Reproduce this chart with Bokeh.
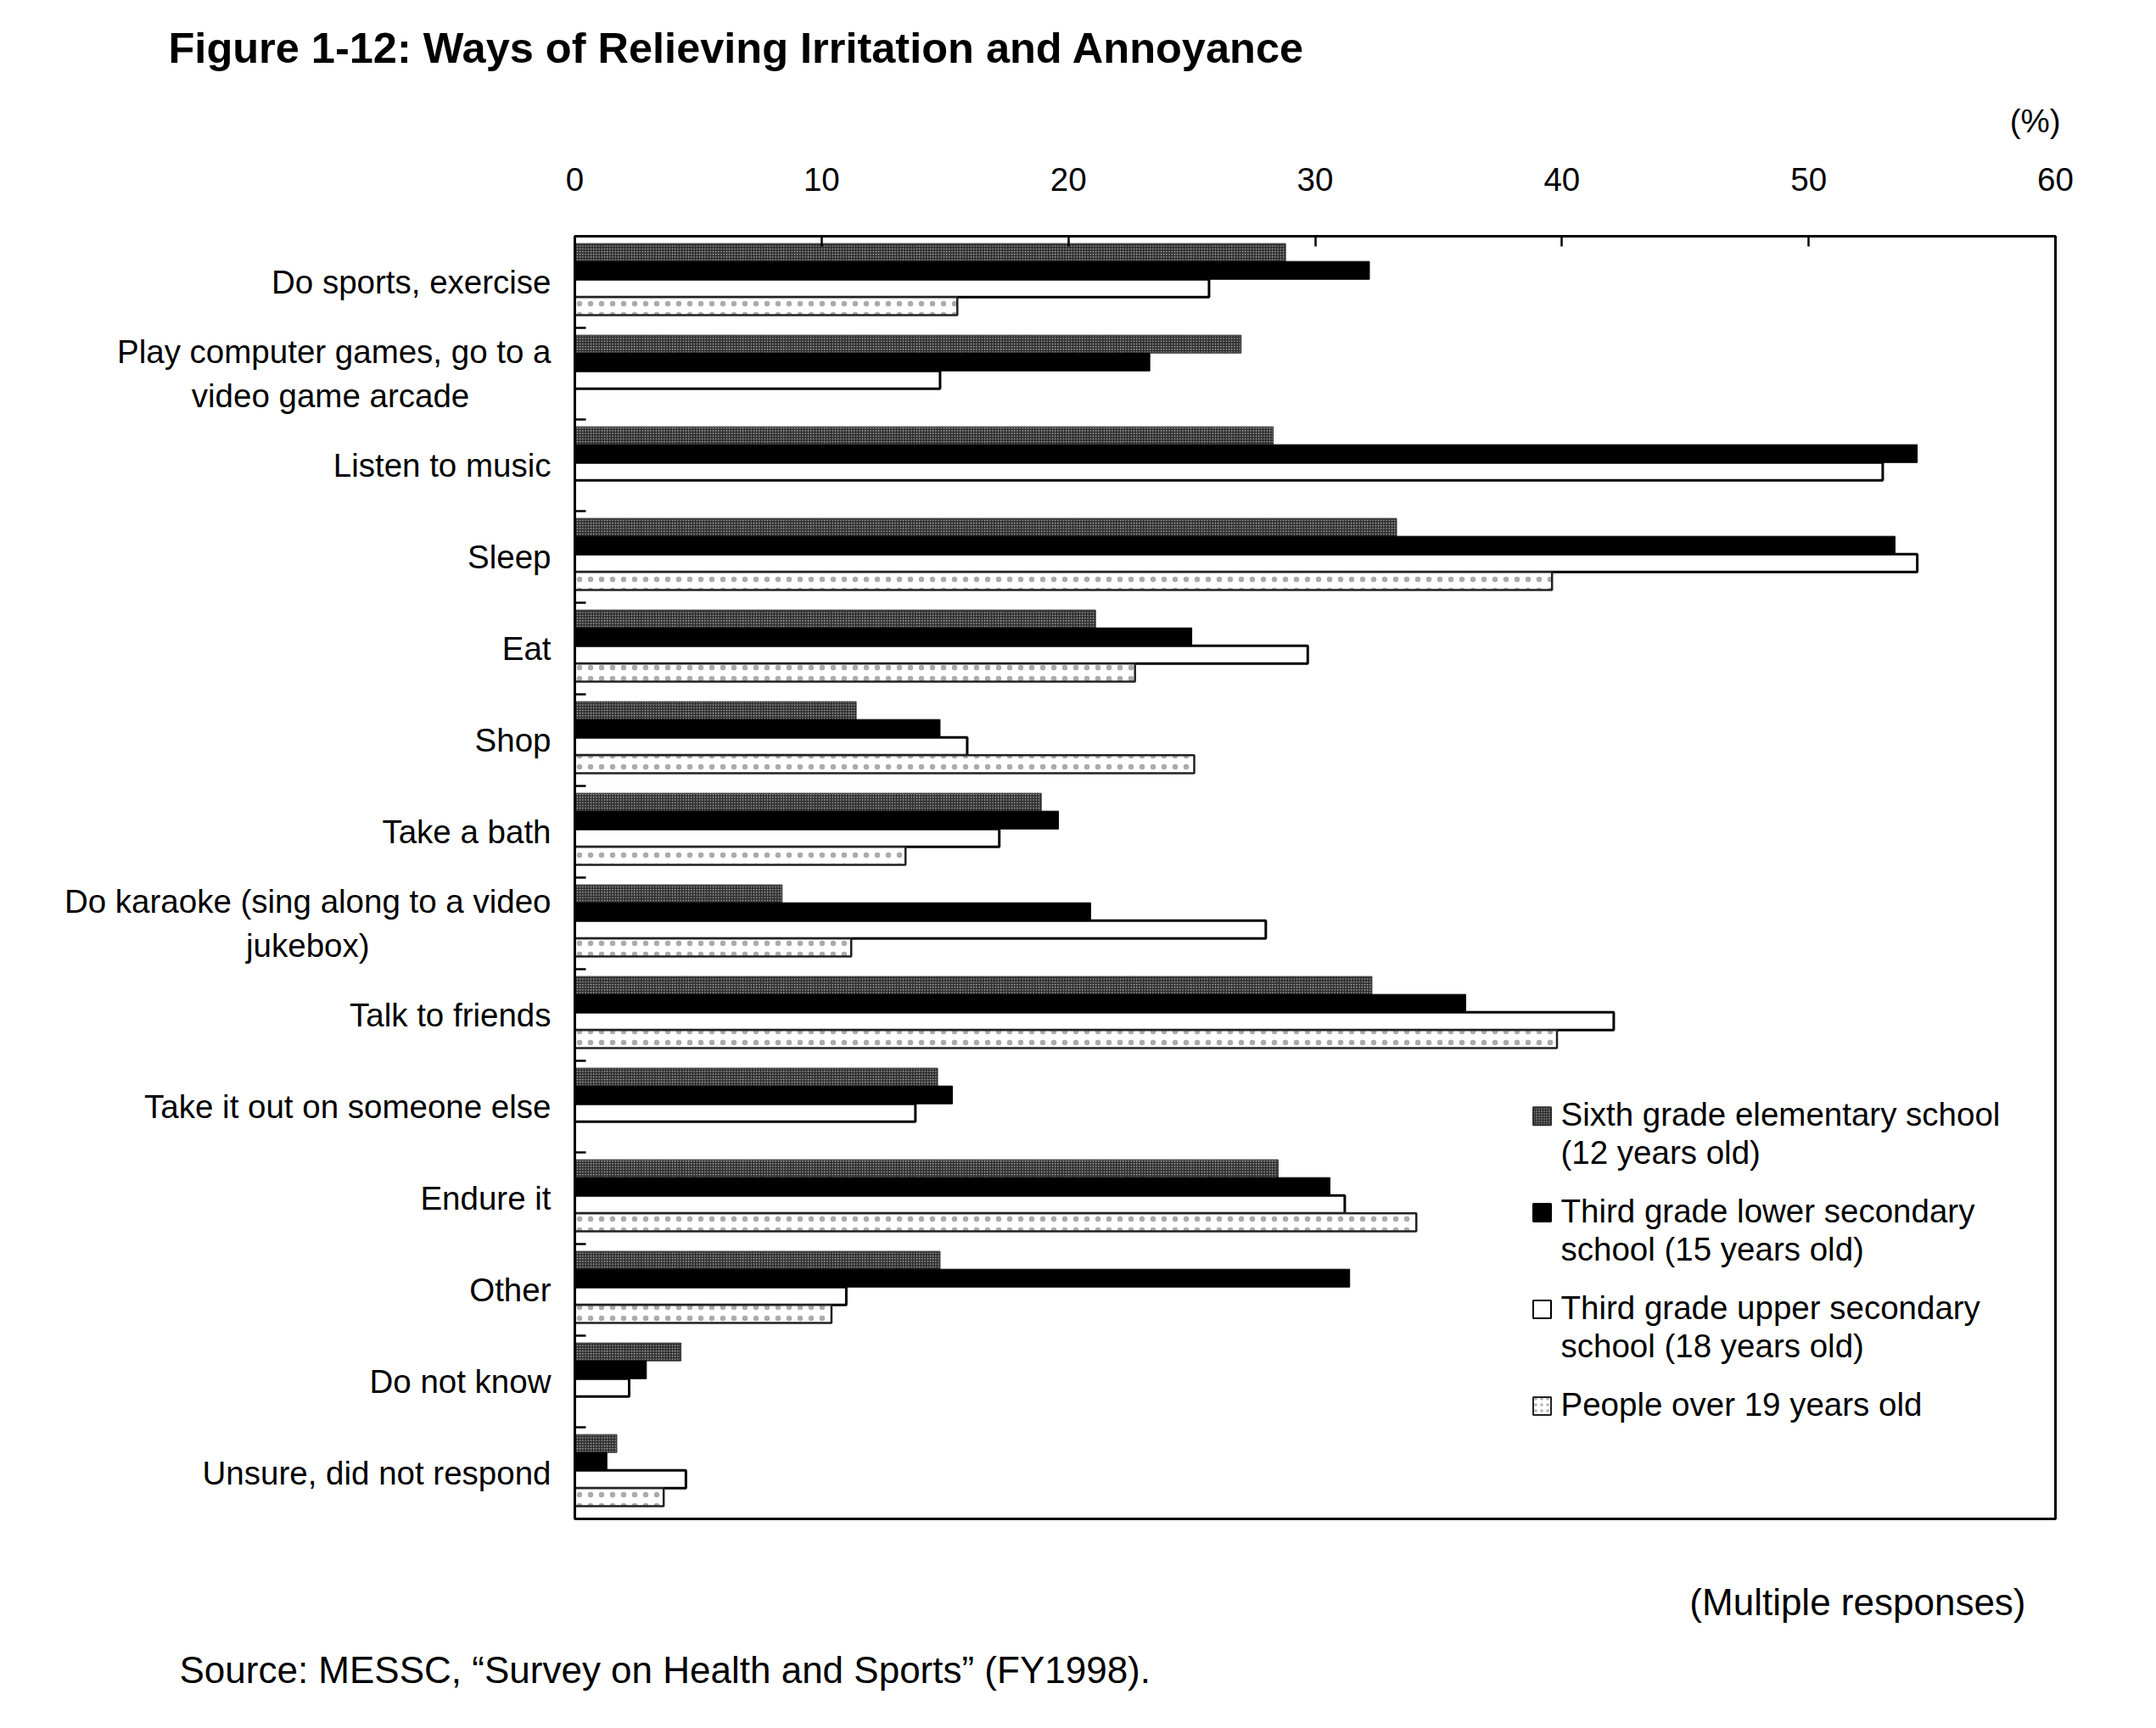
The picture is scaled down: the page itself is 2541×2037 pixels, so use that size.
from bokeh.plotting import figure
from bokeh.models import Range1d, FixedTicker, ColumnDataSource, Title
from bokeh.core.properties import value
from bokeh.embed import file_html
from bokeh.resources import INLINE

# ---------------- data ----------------
categories = [
    "Do sports, exercise",
    "Play computer games, go to a\nvideo game arcade",
    "Listen to music",
    "Sleep",
    "Eat",
    "Shop",
    "Take a bath",
    "Do karaoke (sing along to a video\njukebox)",
    "Talk to friends",
    "Take it out on someone else",
    "Endure it",
    "Other",
    "Do not know",
    "Unsure, did not respond",
]
series_names = [
    "Sixth grade elementary school\n(12 years old)",
    "Third grade lower secondary\nschool (15 years old)",
    "Third grade upper secondary\nschool (18 years old)",
    "People over 19 years old",
]
sixth = [28.8, 27.0, 28.3, 33.3, 21.1, 11.4, 18.9, 8.4, 32.3, 14.7, 28.5, 14.8, 4.3, 1.7]
lower = [32.2, 23.3, 54.4, 53.5, 25.0, 14.8, 19.6, 20.9, 36.1, 15.3, 30.6, 31.4, 2.9, 1.3]
upper = [25.7, 14.8, 53.0, 54.4, 29.7, 15.9, 17.2, 28.0, 42.1, 13.8, 31.2, 11.0, 2.2, 4.5]
over19 = [15.5, None, None, 39.6, 22.7, 25.1, 13.4, 11.2, 39.8, None, 34.1, 10.4, None, 3.6]
x_ticks = [0, 10, 20, 30, 40, 50, 60]

title_text = "Figure 1-12: Ways of Relieving Irritation and Annoyance"
unit_text = "(%)"
note_text = "(Multiple responses)"
source_text = "Source: MESSC, \u201cSurvey on Health and Sports\u201d (FY1998)."

# ---------------- style ----------------
FONT = "Liberation Sans"
W, H = 2525, 2020
LEFT, TOP = 677, 278
FRAME_W, FRAME_H = 1745, 1512
RIGHT = W - LEFT - FRAME_W
BOTTOM = H - TOP - FRAME_H
XMAX = 60
N = len(categories)


def X(cx):
    return (cx - LEFT) / FRAME_W * XMAX


def Y(cy):
    return (cy - TOP) / FRAME_H * N


BAR_H = 0.195
SHIFT = -0.03
# second lines of two-line category labels are centred under the first line
SECOND_LINE_PAD = {1: 9, 7: 20}
NBSP = "\u00a0"

styles = [
    dict(fill_color="#2e2e2e", line_color="#2e2e2e", line_width=1,
         hatch_pattern="dot", hatch_color="#bdbdbd", hatch_scale=3.2, hatch_weight=1.2),
    dict(fill_color="black", line_color="black", line_width=1),
    dict(fill_color="white", line_color="black", line_width=3),
    dict(fill_color="white", line_color="#222222", line_width=2.5,
         hatch_pattern="dot", hatch_color="#ababab", hatch_scale=13, hatch_weight=1.2),
]

p = figure(width=W, height=H, output_backend="svg", toolbar_location=None,
           x_range=Range1d(0, XMAX), y_range=Range1d(N, 0),
           x_axis_location="above",
           min_border_left=LEFT, min_border_right=RIGHT,
           min_border_top=TOP, min_border_bottom=BOTTOM)
p.background_fill_color = "white"
p.border_fill_color = "white"
p.xgrid.visible = False
p.ygrid.visible = False
p.outline_line_color = "black"
p.outline_line_width = 3

# main title (outermost above panel)
p.title.text = title_text
p.title.text_font = FONT
p.title.text_font_size = "50.5px"
p.title.text_font_style = "bold"
p.title.text_color = "black"
p.title.align = "left"
p.title.offset = 198 - LEFT
p.title.standoff = 6

# "(%)" unit title between axis and main title
p.add_layout(Title(text=unit_text, text_font=FONT, text_font_size="38.5px",
                   text_font_style="normal", text_color="black",
                   align="right", offset=-6, standoff=62), "above")

xa = p.xaxis[0]
xa.ticker = FixedTicker(ticks=x_ticks)
xa.major_tick_in = 12
xa.major_tick_out = 0
xa.minor_tick_line_color = None
xa.axis_line_width = 3
xa.major_tick_line_width = 2.5
xa.major_label_text_font = FONT
xa.major_label_text_font_size = "38.5px"
xa.major_label_text_color = "black"
xa.major_label_standoff = 54

ya = p.yaxis[0]
centers = [i + 0.5 for i in range(N)]
labels = []
for i, cat in enumerate(categories):
    lines = cat.split("\n")
    if len(lines) > 1:
        lines[1] = lines[1] + NBSP * SECOND_LINE_PAD[i]
    labels.append("\n".join(lines))
ya.ticker = FixedTicker(ticks=centers, minor_ticks=list(range(1, N)))
ya.major_label_overrides = {c: lab for c, lab in zip(centers, labels)}
ya.major_tick_line_color = None
ya.major_tick_in = 0
ya.major_tick_out = 0
ya.minor_tick_in = 13
ya.minor_tick_out = 0
ya.minor_tick_line_width = 2.5
ya.axis_line_width = 3
ya.major_label_text_font = FONT
ya.major_label_text_font_size = "38.5px"
ya.major_label_text_color = "black"
ya.major_label_standoff = 28

# ---------------- bars ----------------
all_series = [sixth, lower, upper, over19]
for j, vals in enumerate(all_series):
    ys, rs = [], []
    for i, v in enumerate(vals):
        if v is None:
            continue
        ys.append(i + 0.5 + SHIFT + (j - 1.5) * BAR_H)
        rs.append(v)
    src = ColumnDataSource(dict(y=ys, right=rs))
    p.hbar(y="y", left=0, right="right", height=BAR_H, source=src, **styles[j])

# ---------------- legend ----------------
LEG_SQ_X = X(1817)
LEG_TX_X = X(1839)
LEG_Y0 = Y(1313)
LEG_STEP = 1.055
LEG_LINE = 0.417
lt_y, lt_t = [], []
for j, name in enumerate(series_names):
    y0 = LEG_Y0 + j * LEG_STEP
    st = dict(styles[j])
    st["line_width"] = 2
    if j == 0:
        st["hatch_scale"] = 3
    if j == 3:
        st["hatch_scale"] = 7
    p.scatter(x=[LEG_SQ_X], y=[y0 + 0.02], marker="square", size=21, **st)
    for k, line in enumerate(name.split("\n")):
        lt_y.append(y0 + k * LEG_LINE)
        lt_t.append(line)
p.text(x=LEG_TX_X, y="y", text="t", source=ColumnDataSource(dict(y=lt_y, t=lt_t)),
       text_align="left", text_baseline="middle",
       text_font=value(FONT), text_font_size=value("38.5px"), text_color="black")

# ---------------- texts below ----------------
p.add_layout(Title(text=note_text, text_font=FONT, text_font_size="44px",
                   text_font_style="normal", text_color="black",
                   align="right", offset=35, vertical_align="top", standoff=146), "below")
p.add_layout(Title(text=source_text, text_font=FONT, text_font_size="44px",
                   text_font_style="normal", text_color="black",
                   align="left", offset=211 - LEFT, vertical_align="top", standoff=-88), "below")

open("out.html", "w").write(file_html(p, INLINE))
